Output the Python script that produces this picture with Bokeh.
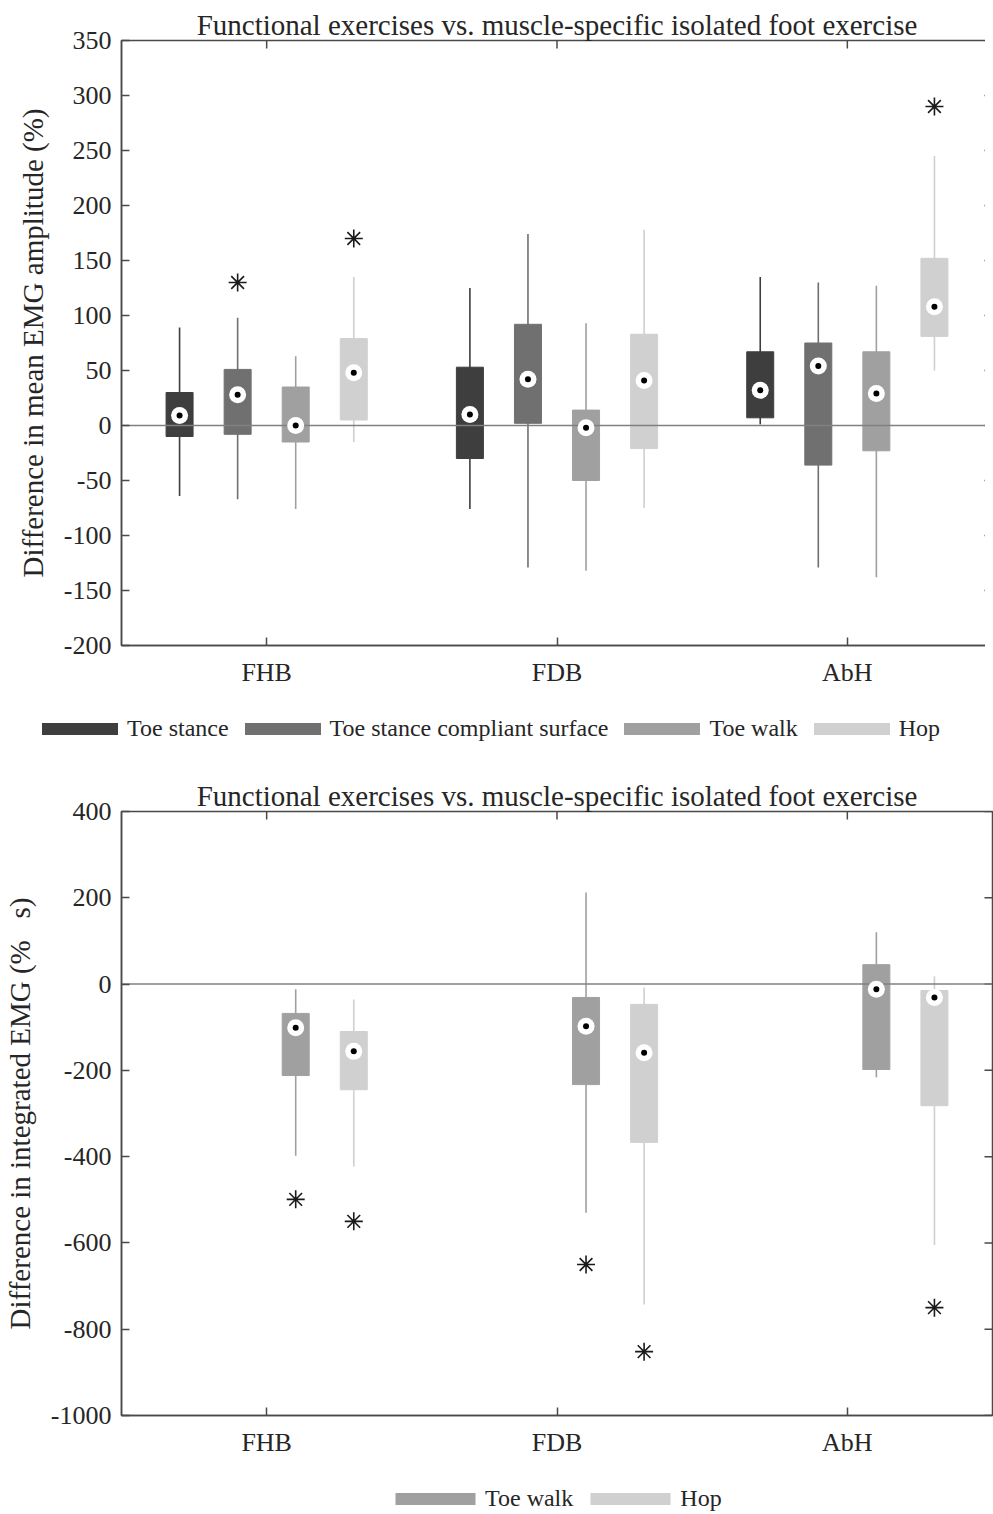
from bokeh.plotting import figure
from bokeh.models import Range1d, FixedTicker, Legend, LegendItem, Span, ColumnDataSource
from bokeh.layouts import column
from bokeh.embed import file_html
from bokeh.resources import INLINE

# ---------------- data ----------------
groups = ["FHB", "FDB", "AbH"]
series_names = ["Toe stance", "Toe stance compliant surface", "Toe walk", "Hop"]
series_colors = ["#3e3e3e", "#707070", "#a0a0a0", "#d0d0d0"]
series_offsets = [-0.3, -0.1, 0.1, 0.3]

title_text = "Functional exercises vs. muscle-specific isolated foot exercise"

# top panel: difference in mean EMG amplitude (%)
top_ts_lo = [-64, -76, 1]
top_ts_q1 = [-10, -30, 7]
top_ts_med = [9, 10, 32]
top_ts_q3 = [30, 53, 67]
top_ts_hi = [89, 125, 135]

top_tscs_lo = [-67, -129, -129]
top_tscs_q1 = [-8, 2, -36]
top_tscs_med = [28, 42, 54]
top_tscs_q3 = [51, 92, 75]
top_tscs_hi = [98, 174, 130]

top_tw_lo = [-76, -132, -138]
top_tw_q1 = [-15, -50, -23]
top_tw_med = [0, -2, 29]
top_tw_q3 = [35, 14, 67]
top_tw_hi = [63, 93, 127]

top_hop_lo = [-15, -75, 50]
top_hop_q1 = [5, -21, 81]
top_hop_med = [48, 41, 108]
top_hop_q3 = [79, 83, 152]
top_hop_hi = [135, 178, 245]

top_out_group = ["FHB", "FHB", "AbH"]
top_out_series = ["Toe stance compliant surface", "Hop", "Hop"]
top_out_value = [130, 170, 290]

top_yticks = [-200, -150, -100, -50, 0, 50, 100, 150, 200, 250, 300, 350]

# bottom panel: difference in integrated EMG
bot_tw_lo = [-398, -530, -216]
bot_tw_q1 = [-212, -233, -198]
bot_tw_med = [-101, -98, -12]
bot_tw_q3 = [-68, -31, 45]
bot_tw_hi = [-12, 212, 120]

bot_hop_lo = [-423, -743, -605]
bot_hop_q1 = [-245, -367, -282]
bot_hop_med = [-156, -159, -31]
bot_hop_q3 = [-110, -47, -15]
bot_hop_hi = [-36, -8, 18]

bot_out_group = ["FHB", "FDB", "FHB", "FDB", "AbH"]
bot_out_series = ["Toe walk", "Toe walk", "Hop", "Hop", "Hop"]
bot_out_value = [-499, -650, -550, -852, -750]

bot_yticks = [-1000, -800, -600, -400, -200, 0, 200, 400]

FONT = "Liberation Serif"
AX_COLOR = "#4a4a4a"
TXT_COLOR = "#262626"
FRAME_W = 871
TICK_PX = 8


def build(series, outliers, yrange, yticks, ylabel, frame_h, border_top, border_bottom):
    p = figure(frame_width=FRAME_W, frame_height=frame_h, output_backend="svg", toolbar_location=None,
               x_range=Range1d(0.5, 3.5), y_range=Range1d(*yrange),
               min_border_left=113, min_border_right=1,
               min_border_top=border_top, min_border_bottom=border_bottom,
               title=title_text)
    p.title.text_font = FONT
    p.title.text_font_size = "29px"
    p.title.text_font_style = "normal"
    p.title.text_color = TXT_COLOR
    p.title.align = "center"
    p.title.standoff = 0
    p.grid.visible = False
    p.outline_line_color = AX_COLOR
    p.outline_line_width = 1.5
    p.background_fill_color = "white"
    p.border_fill_color = "white"

    for ax in (p.xaxis[0], p.yaxis[0]):
        ax.axis_line_color = AX_COLOR
        ax.axis_line_width = 1.5
        ax.major_tick_line_color = AX_COLOR
        ax.major_tick_line_width = 1.5
        ax.major_tick_in = TICK_PX
        ax.major_tick_out = 0
        ax.minor_tick_line_color = None
        ax.major_label_text_font = FONT
        ax.major_label_text_font_size = "26px"
        ax.major_label_text_color = TXT_COLOR
    p.xaxis.ticker = FixedTicker(ticks=[1, 2, 3])
    p.xaxis.major_label_overrides = {1: groups[0], 2: groups[1], 3: groups[2]}
    p.xaxis.major_label_standoff = 12
    p.yaxis.ticker = FixedTicker(ticks=yticks)
    p.yaxis.major_label_overrides = {t: str(t) for t in yticks}
    p.yaxis.major_label_standoff = 10
    p.yaxis.axis_label = ylabel
    p.yaxis.axis_label_text_font = FONT
    p.yaxis.axis_label_text_font_size = "29px"
    p.yaxis.axis_label_text_font_style = "normal"
    p.yaxis.axis_label_text_color = TXT_COLOR
    p.yaxis.axis_label_standoff = 12

    # mirrored inward ticks on the right and top edges (box style)
    xr0, xr1 = 0.5, 3.5
    yr0, yr1 = yrange
    dx = (xr1 - xr0) / FRAME_W * TICK_PX
    dy = (yr1 - yr0) / frame_h * TICK_PX
    p.segment(x0=[xr1] * len(yticks), y0=yticks, x1=[xr1 - dx] * len(yticks), y1=yticks,
              line_color=AX_COLOR, line_width=1.5)
    p.segment(x0=[1, 2, 3], y0=[yr1] * 3, x1=[1, 2, 3], y1=[yr1 - dy] * 3,
              line_color=AX_COLOR, line_width=1.5)

    sources = []
    for name, (lo, q1, med, q3, hi) in series:
        k = series_names.index(name)
        xs = [i + 1 + series_offsets[k] for i in range(len(groups))]
        src = ColumnDataSource(dict(x=xs, lo=lo, q1=q1, med=med, q3=q3, hi=hi))
        p.segment(x0="x", y0="lo", x1="x", y1="hi", source=src,
                  line_color=series_colors[k], line_width=1.6)
        p.vbar(x="x", width=0.093, top="q3", bottom="q1", source=src,
               fill_color=series_colors[k], line_color=series_colors[k], line_width=1)
        sources.append((name, src))

    p.renderers.append(Span(location=0, dimension="width", line_color="#808080",
                            line_width=1.5, level="glyph"))

    for _, src in sources:
        p.scatter(x="x", y="med", source=src, marker="circle", size=17,
                  fill_color="white", line_color=None)
        p.scatter(x="x", y="med", source=src, marker="circle", size=6,
                  fill_color="black", line_color=None)

    og, os_, ov = outliers
    ox = [groups.index(g) + 1 + series_offsets[series_names.index(s)] for g, s in zip(og, os_)]
    p.scatter(x=ox, y=ov, marker="asterisk", size=18, line_color="#1a1a1a", line_width=1.6)
    return p, sources


def legend_fig(sources, frame_h, loc, glyph_w, spacing):
    # a strip below the chart that carries only the legend; the box glyphs use the
    # same data but sit far outside this strip's ranges, so only the legend shows
    q = figure(frame_width=FRAME_W, frame_height=frame_h, output_backend="svg",
               toolbar_location=None, x_axis_type=None, y_axis_type=None,
               min_border_left=113, min_border_right=1, min_border_top=0, min_border_bottom=0,
               x_range=Range1d(100, 101), y_range=Range1d(10000, 10001))
    q.outline_line_color = None
    q.grid.visible = False
    q.background_fill_color = "white"
    q.border_fill_color = "white"
    items = []
    for name, src in sources:
        k = series_names.index(name)
        r = q.vbar(x="x", width=0.093, top="q3", bottom="q1", source=src,
                   fill_color=series_colors[k], line_color=None)
        items.append(LegendItem(label=name, renderers=[r]))
    legend = Legend(items=items, orientation="horizontal", location=loc,
                    glyph_width=glyph_w, glyph_height=15, label_standoff=0, spacing=spacing,
                    padding=0, margin=0, border_line_color=None, background_fill_alpha=0,
                    label_text_font=FONT, label_text_font_size="24px",
                    label_text_color=TXT_COLOR)
    q.add_layout(legend, "center")
    return q


top, top_src = build(
    [("Toe stance", (top_ts_lo, top_ts_q1, top_ts_med, top_ts_q3, top_ts_hi)),
     ("Toe stance compliant surface", (top_tscs_lo, top_tscs_q1, top_tscs_med, top_tscs_q3, top_tscs_hi)),
     ("Toe walk", (top_tw_lo, top_tw_q1, top_tw_med, top_tw_q3, top_tw_hi)),
     ("Hop", (top_hop_lo, top_hop_q1, top_hop_med, top_hop_q3, top_hop_hi))],
    (top_out_group, top_out_series, top_out_value),
    (-200, 350), top_yticks, "Difference in mean EMG amplitude (%)",
    605, 40, 50)
leg_top = legend_fig(top_src, 66, (-6, 19), 95, 6)

bottom, bot_src = build(
    [("Toe walk", (bot_tw_lo, bot_tw_q1, bot_tw_med, bot_tw_q3, bot_tw_hi)),
     ("Hop", (bot_hop_lo, bot_hop_q1, bot_hop_med, bot_hop_q3, bot_hop_hi))],
    (bot_out_group, bot_out_series, bot_out_value),
    (-1000, 400), bot_yticks, "Difference in integrated EMG (%\u00a0\u00a0\u00a0s)",
    604, 50, 50)
leg_bot = legend_fig(bot_src, 47, (347, 0), 100, 7)

layout = column(top, leg_top, bottom, leg_bot)
open("out.html", "w").write(file_html(layout, INLINE))
